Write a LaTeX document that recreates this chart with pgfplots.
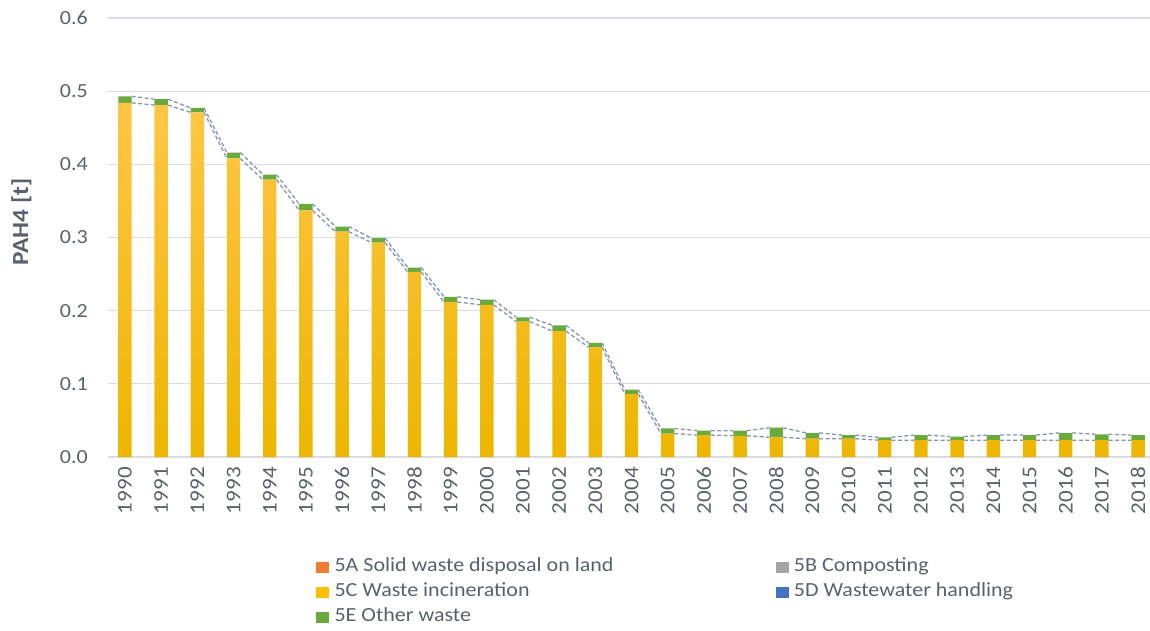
\documentclass[border=0pt]{standalone}
\usepackage{fontspec}
\setmainfont{Carlito}[FakeStretch=1.1]
\usepackage{pgfplots}
\usepackage{pgfplotstable}
\pgfplotsset{compat=1.18}
\definecolor{c5A}{RGB}{237,125,49}
\definecolor{c5B}{RGB}{165,165,165}
\definecolor{c5C}{RGB}{255,192,0}
\definecolor{c5Ctop}{RGB}{255,198,70}
\definecolor{c5Cbot}{RGB}{236,182,0}
\definecolor{c5D}{RGB}{68,114,196}
\definecolor{c5E}{RGB}{106,170,60}
\definecolor{txt}{RGB}{89,96,110}
\definecolor{grid}{RGB}{217,220,225}
\definecolor{sline}{RGB}{132,151,176}

\pgfplotstableread{
year c e
1990 0.484 0.009
1991 0.481 0.008
1992 0.471 0.006
1993 0.408 0.008
1994 0.379 0.007
1995 0.337 0.009
1996 0.308 0.007
1997 0.293 0.006
1998 0.253 0.006
1999 0.212 0.007
2000 0.208 0.007
2001 0.185 0.006
2002 0.172 0.008
2003 0.150 0.006
2004 0.086 0.006
2005 0.032 0.007
2006 0.030 0.006
2007 0.029 0.007
2008 0.027 0.013
2009 0.025 0.008
2010 0.025 0.005
2011 0.023 0.004
2012 0.023 0.007
2013 0.023 0.005
2014 0.023 0.007
2015 0.023 0.007
2016 0.023 0.010
2017 0.023 0.008
2018 0.023 0.007
}\datatable

\pgfplotsset{
  common/.style={
    scale only axis, width=1042pt, height=439pt,
    xmin=1989.53, xmax=2018.33, ymin=0, ymax=0.6,
    at={(0,0)}, anchor=south west,
  }
}
\newcommand{\fs}{\fontsize{20}{24}\selectfont}

\begin{document}
\begin{tikzpicture}
\begin{axis}[common,
  ybar stacked, bar width=0.37,
  /pgf/number format/assume math mode=true,
  axis x line*=bottom, axis y line*=left,
  x axis line style={draw=grid, line width=1.5pt, -},
  y axis line style={draw=none},
  xtick=data, xticklabel style={yshift=-10pt, rotate=90, anchor=east, inner sep=0pt, font=\fontsize{21}{25}\selectfont, text=txt, /pgf/number format/1000 sep={}},
  major tick length=0pt,
  ytick={0,0.1,...,0.6},
  ymajorgrids, grid style={draw=grid, line width=1.3pt},
  yticklabel style={anchor=east, inner sep=0pt, xshift=-20pt, font=\fs, text=txt, /pgf/number format/.cd, fixed, fixed zerofill, precision=1},
  ylabel={\bfseries PAH4 [t]},
  ylabel style={at={(axis description cs:-0.083,0.535)}, anchor=center, font=\fontsize{23}{27}\selectfont, text=txt},
  legend style={at={(axis description cs:0.1996,-0.2278)}, anchor=north west, draw=none, fill=none, inner sep=0pt, font=\fs, text=txt, row sep=6pt,
    nodes={inner sep=0pt, text height=14pt, text depth=5pt},
    /tikz/every odd column/.append style={column sep=6pt}},
  legend columns=2, legend cell align=left,
]
\addplot[forget plot, draw=none, top color=c5Ctop, bottom color=c5Cbot] table[x=year, y=c] {\datatable};
\addplot[forget plot, draw=none, fill=c5E] table[x=year, y=e] {\datatable};

\addlegendimage{legend image code/.code={\fill[c5A] (0pt,-5pt) rectangle (12pt,5pt);}}
\addlegendentry{\makebox[441pt][l]{5A Solid waste disposal on land}}
\addlegendimage{legend image code/.code={\fill[c5B] (0pt,-5pt) rectangle (12pt,5pt);}}
\addlegendentry{5B Composting}
\addlegendimage{legend image code/.code={\fill[c5C] (0pt,-5pt) rectangle (12pt,5pt);}}
\addlegendentry{\makebox[441pt][l]{5C Waste incineration}}
\addlegendimage{legend image code/.code={\fill[c5D] (0pt,-5pt) rectangle (12pt,5pt);}}
\addlegendentry{5D Wastewater handling}
\addlegendimage{legend image code/.code={\fill[c5E] (0pt,-5pt) rectangle (12pt,5pt);}}
\addlegendentry{\makebox[441pt][l]{5E Other waste}}
\end{axis}

\begin{axis}[common, hide axis, unbounded coords=jump]
\addplot[sline, line width=1.3pt, dash pattern=on 4pt off 2.5pt, mark=none] coordinates {
(1990.185,0.484)(1990.815,0.481)(1991,nan)
(1991.185,0.481)(1991.815,0.471)(1992,nan)
(1992.185,0.471)(1992.815,0.408)(1993,nan)
(1993.185,0.408)(1993.815,0.379)(1994,nan)
(1994.185,0.379)(1994.815,0.337)(1995,nan)
(1995.185,0.337)(1995.815,0.308)(1996,nan)
(1996.185,0.308)(1996.815,0.293)(1997,nan)
(1997.185,0.293)(1997.815,0.253)(1998,nan)
(1998.185,0.253)(1998.815,0.212)(1999,nan)
(1999.185,0.212)(1999.815,0.208)(2000,nan)
(2000.185,0.208)(2000.815,0.185)(2001,nan)
(2001.185,0.185)(2001.815,0.172)(2002,nan)
(2002.185,0.172)(2002.815,0.150)(2003,nan)
(2003.185,0.150)(2003.815,0.086)(2004,nan)
(2004.185,0.086)(2004.815,0.032)(2005,nan)
(2005.185,0.032)(2005.815,0.030)(2006,nan)
(2006.185,0.030)(2006.815,0.029)(2007,nan)
(2007.185,0.029)(2007.815,0.027)(2008,nan)
(2008.185,0.027)(2008.815,0.025)(2009,nan)
(2009.185,0.025)(2009.815,0.025)(2010,nan)
(2010.185,0.025)(2010.815,0.023)(2011,nan)
(2011.185,0.023)(2011.815,0.023)(2012,nan)
(2012.185,0.023)(2012.815,0.023)(2013,nan)
(2013.185,0.023)(2013.815,0.023)(2014,nan)
(2014.185,0.023)(2014.815,0.023)(2015,nan)
(2015.185,0.023)(2015.815,0.023)(2016,nan)
(2016.185,0.023)(2016.815,0.023)(2017,nan)
(2017.185,0.023)(2017.815,0.023)
};
\addplot[sline, line width=1.3pt, dash pattern=on 4pt off 2.5pt, mark=none] coordinates {
(1990.185,0.493)(1990.815,0.489)(1991,nan)
(1991.185,0.489)(1991.815,0.477)(1992,nan)
(1992.185,0.477)(1992.815,0.416)(1993,nan)
(1993.185,0.416)(1993.815,0.386)(1994,nan)
(1994.185,0.386)(1994.815,0.346)(1995,nan)
(1995.185,0.346)(1995.815,0.315)(1996,nan)
(1996.185,0.315)(1996.815,0.299)(1997,nan)
(1997.185,0.299)(1997.815,0.259)(1998,nan)
(1998.185,0.259)(1998.815,0.219)(1999,nan)
(1999.185,0.219)(1999.815,0.215)(2000,nan)
(2000.185,0.215)(2000.815,0.191)(2001,nan)
(2001.185,0.191)(2001.815,0.180)(2002,nan)
(2002.185,0.180)(2002.815,0.156)(2003,nan)
(2003.185,0.156)(2003.815,0.092)(2004,nan)
(2004.185,0.092)(2004.815,0.039)(2005,nan)
(2005.185,0.039)(2005.815,0.036)(2006,nan)
(2006.185,0.036)(2006.815,0.036)(2007,nan)
(2007.185,0.036)(2007.815,0.040)(2008,nan)
(2008.185,0.040)(2008.815,0.033)(2009,nan)
(2009.185,0.033)(2009.815,0.030)(2010,nan)
(2010.185,0.030)(2010.815,0.027)(2011,nan)
(2011.185,0.027)(2011.815,0.030)(2012,nan)
(2012.185,0.030)(2012.815,0.028)(2013,nan)
(2013.185,0.028)(2013.815,0.030)(2014,nan)
(2014.185,0.030)(2014.815,0.030)(2015,nan)
(2015.185,0.030)(2015.815,0.033)(2016,nan)
(2016.185,0.033)(2016.815,0.031)(2017,nan)
(2017.185,0.031)(2017.815,0.030)
};
\end{axis}
\pgfresetboundingbox
\path[use as bounding box] (-108pt,-173pt) rectangle (1042pt,457pt);
\end{tikzpicture}
\end{document}
